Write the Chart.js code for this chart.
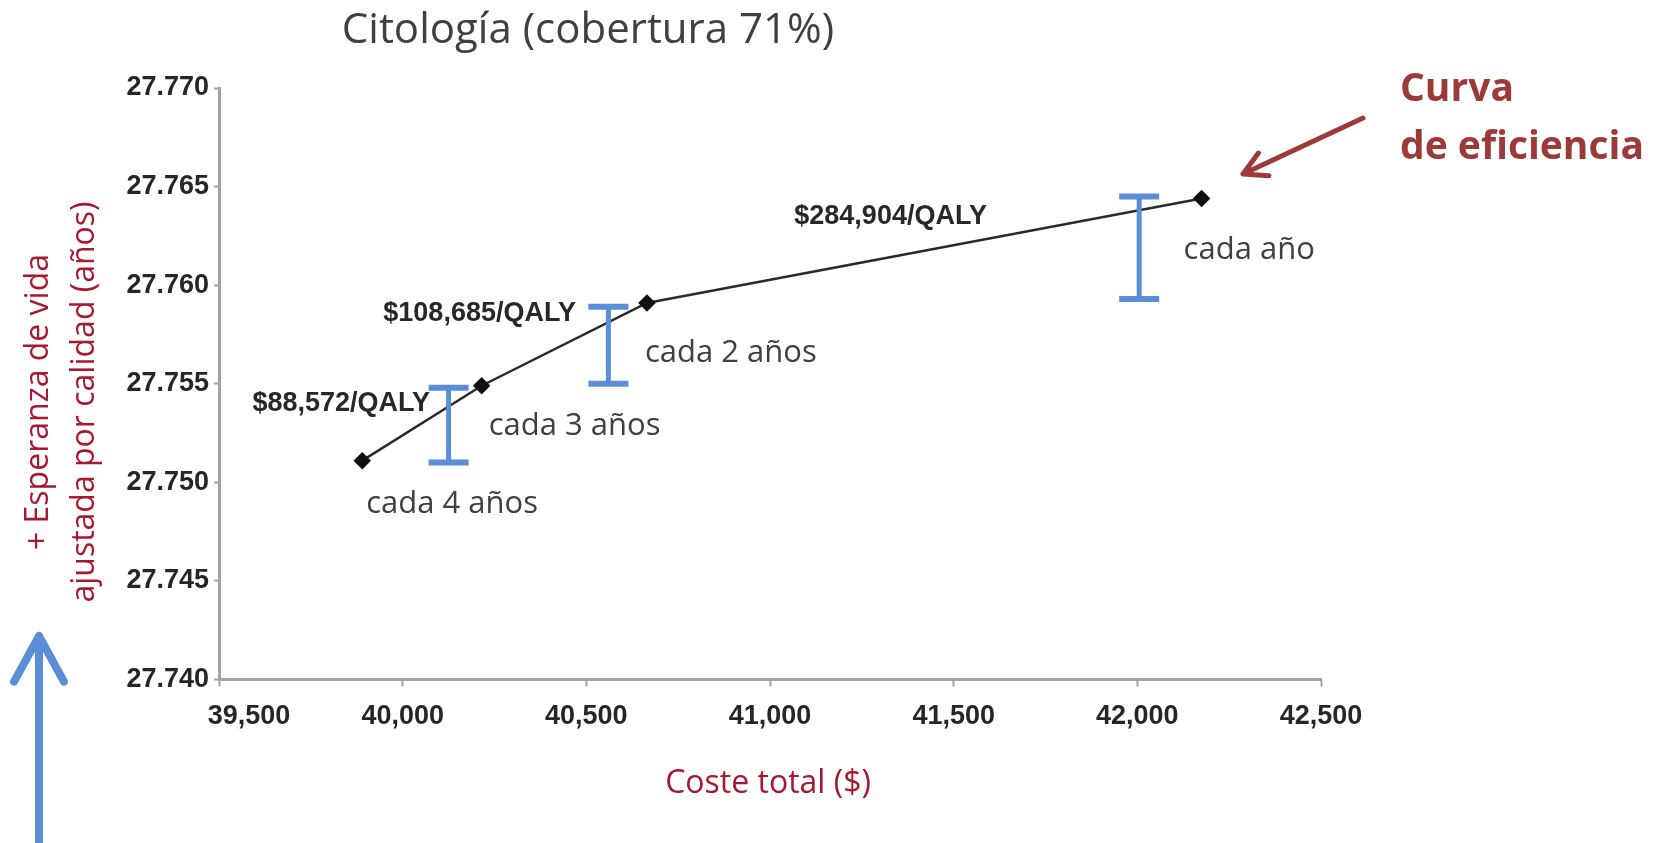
<!DOCTYPE html>
<html>
<head>
<meta charset="utf-8">
<script src="https://cdn.jsdelivr.net/npm/chart.js@4"></script>
<style>
  html, body { margin: 0; padding: 0; background: #fff; }
  #wrap { width: 1657px; height: 843px; }
</style>
</head>
<body>
<div id="wrap"><canvas id="chart" width="1657" height="843"></canvas></div>
<script>
"use strict";

// Screening strategies on the efficiency frontier
const STRATEGIES = ["cada 4 años", "cada 3 años", "cada 2 años", "cada año"];
const COSTS = [39890, 40215, 40665, 42175];
const QALYS = [27.7511, 27.7549, 27.7591, 27.7644];
const ICER_LABELS = ["$88,572/QALY", "$108,685/QALY", "$284,904/QALY"];

// Blue "I" brackets drawn over the curve
const BRACKET_X = [40125, 40560, 42005];
const BRACKET_LOW = [27.7510, 27.7550, 27.7593];
const BRACKET_HIGH = [27.7548, 27.7589, 27.7645];

const X_TICKS = [39500, 40000, 40500, 41000, 41500, 42000, 42500];
const Y_TICKS = [27.740, 27.745, 27.750, 27.755, 27.760, 27.765, 27.770];

const BLUE = "#5a8ed6";
const RED = "#a6192e";
const BROWN = "#9c3a3a";
const GREY_TEXT = "#404040";
const TICK_FONT = { family: "'Liberation Sans', Arial, sans-serif", size: 27, weight: "bold" };
const SANS = "'Open Sans', 'Noto Sans', sans-serif";

function drawText(ctx, str, x, y, font, color, align = "left") {
  ctx.save();
  ctx.font = font;
  ctx.fillStyle = color;
  ctx.textAlign = align;
  ctx.textBaseline = "middle";
  ctx.fillText(str, x, y);
  ctx.restore();
}

function drawArrow(ctx, x1, y1, x2, y2, color, width, head, spread) {
  const ang = Math.atan2(y2 - y1, x2 - x1);
  ctx.save();
  ctx.strokeStyle = color;
  ctx.lineWidth = width;
  ctx.lineCap = "round";
  ctx.lineJoin = "round";
  ctx.beginPath();
  ctx.moveTo(x1, y1);
  ctx.lineTo(x2, y2);
  ctx.moveTo(x2 - head * Math.cos(ang - spread), y2 - head * Math.sin(ang - spread));
  ctx.lineTo(x2, y2);
  ctx.lineTo(x2 - head * Math.cos(ang + spread), y2 - head * Math.sin(ang + spread));
  ctx.stroke();
  ctx.restore();
}

// Label offsets (pixels) relative to the matching point
const STRATEGY_OFFSETS = [[4, 44], [7, 40], [-2, 50], [-18, 52]];
const ICER_OFFSETS = [[-21, -57], [-2, -72], [-311, 18]];

const overlay = {
  id: "overlay",
  afterDatasetsDraw(chart) {
    const { ctx, scales: { x, y } } = chart;

    // blue brackets
    ctx.save();
    ctx.strokeStyle = BLUE;
    ctx.lineCap = "butt";
    BRACKET_X.forEach((bx, i) => {
      const px = x.getPixelForValue(bx);
      const top = y.getPixelForValue(BRACKET_HIGH[i]);
      const bottom = y.getPixelForValue(BRACKET_LOW[i]);
      ctx.lineWidth = 5;
      ctx.beginPath();
      ctx.moveTo(px, top);
      ctx.lineTo(px, bottom);
      ctx.stroke();
      ctx.lineWidth = 6;
      ctx.beginPath();
      ctx.moveTo(px - 20, top);
      ctx.lineTo(px + 20, top);
      ctx.moveTo(px - 20, bottom);
      ctx.lineTo(px + 20, bottom);
      ctx.stroke();
    });
    ctx.restore();

    // strategy + ICER labels
    COSTS.forEach((c, i) => {
      const px = x.getPixelForValue(c);
      const py = y.getPixelForValue(QALYS[i]);
      const [dx, dy] = STRATEGY_OFFSETS[i];
      drawText(ctx, STRATEGIES[i], px + dx, py + dy, `31px ${SANS}`, GREY_TEXT);
    });
    ICER_LABELS.forEach((label, i) => {
      // the last ICER label sits next to the final point
      const anchor = i === 2 ? 3 : i;
      const px = x.getPixelForValue(COSTS[anchor]);
      const py = y.getPixelForValue(QALYS[anchor]);
      const [dx, dy] = ICER_OFFSETS[i];
      drawText(ctx, label, px + dx, py + dy,
        `bold 27px ${TICK_FONT.family}`, "#282828", "center");
    });
  },
  afterDraw(chart) {
    const { ctx } = chart;

    drawText(ctx, "Citología (cobertura 71%)", 588, 31, `42px ${SANS}`, GREY_TEXT, "center");
    drawText(ctx, "Coste total ($)", 768, 784, `32px ${SANS}`, RED, "center");

    ctx.save();
    ctx.translate(39, 402);
    ctx.rotate(-Math.PI / 2);
    drawText(ctx, "+ Esperanza de vida", 0, 0, `32px ${SANS}`, RED, "center");
    ctx.restore();
    ctx.save();
    ctx.translate(85, 402);
    ctx.rotate(-Math.PI / 2);
    drawText(ctx, "ajustada por calidad (años)", 0, 0, `32px ${SANS}`, RED, "center");
    ctx.restore();

    drawText(ctx, "Curva", 1400, 90, `bold 39px ${SANS}`, BROWN);
    drawText(ctx, "de eficiencia", 1400, 148, `bold 39px ${SANS}`, BROWN);
    drawArrow(ctx, 1363, 118, 1243, 174, BROWN, 5, 26, 0.5);

    drawArrow(ctx, 39, 860, 39, 636, BLUE, 8, 52, 0.5);
  },
};

new Chart(document.getElementById("chart"), {
  type: "scatter",
  data: {
    datasets: [{
      data: COSTS.map((c, i) => ({ x: c, y: QALYS[i] })),
      showLine: true,
      borderColor: "#2a2a2a",
      borderWidth: 2.5,
      backgroundColor: "#111",
      pointBackgroundColor: "#111",
      pointBorderColor: "#111",
      pointStyle: "rectRot",
      pointRadius: 7,
      clip: false,
    }],
  },
  options: {
    responsive: false,
    animation: false,
    devicePixelRatio: 1,
    layout: { padding: { top: 88, right: 336, left: 0, bottom: 0 } },
    plugins: { legend: { display: false }, tooltip: { enabled: false } },
    scales: {
      x: {
        type: "linear",
        min: X_TICKS[0],
        max: X_TICKS[X_TICKS.length - 1],
        afterBuildTicks: (s) => { s.ticks = X_TICKS.map((v) => ({ value: v })); },
        afterFit: (s) => { s.height = 163.5; },
        border: { color: "#a3a3a3", width: 3 },
        grid: { drawOnChartArea: false, drawTicks: true, tickLength: 7, tickWidth: 2, color: "#a3a3a3" },
        ticks: {
          color: "#262626", font: TICK_FONT, padding: 14, maxRotation: 0, autoSkip: false,
          // first label sits right of its tick in the original, pad it over
          callback: (v, i) => (i === 0 ? "        " : "") + Number(v).toLocaleString("en-US"),
        },
      },
      y: {
        type: "linear",
        min: Y_TICKS[0],
        max: Y_TICKS[Y_TICKS.length - 1],
        afterBuildTicks: (s) => { s.ticks = Y_TICKS.map((v) => ({ value: v })); },
        afterFit: (s) => { s.width = 219; },
        border: { color: "#a3a3a3", width: 3 },
        grid: { drawOnChartArea: false, drawTicks: true, tickLength: 5, tickWidth: 2, color: "#a3a3a3" },
        ticks: {
          color: "#262626", font: TICK_FONT, padding: 5, autoSkip: false,
          callback: (v) => Number(v).toFixed(3),
        },
      },
    },
  },
  plugins: [overlay],
});
</script>
</body>
</html>
